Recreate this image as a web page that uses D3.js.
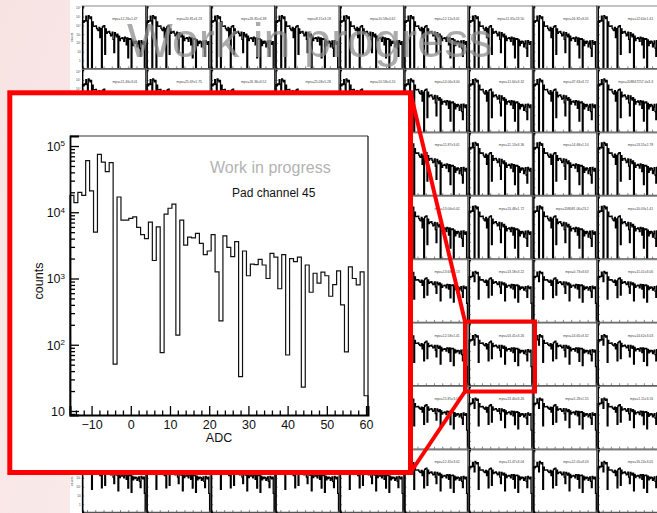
<!DOCTYPE html>
<html><head><meta charset="utf-8">
<script src="https://cdn.jsdelivr.net/npm/d3@7"></script>
<style>
body{margin:0;background:#fff;}
svg{display:block;font-family:"Liberation Sans",Arial,Helvetica,sans-serif;}
</style>
</head><body>
<svg id="c" width="657" height="513"></svg>
<script>
// ---------- data ----------
const adc = [-15,-14,-13,-12,-11,-10,-9,-8,-7,-6,-5,-4,-3,-2,-1,0,1,2,3,4,5,6,7,8,9,10,
  11,12,13,14,15,16,17,18,19,20,21,22,23,24,25,26,27,28,29,30,31,32,33,34,35,36,37,38,39,40,
  41,42,43,44,45,46,47,48,49,50,51,52,53,54,55,56,57,58,59,60];

// Pad channel 45 (inset)
const counts45 = [18000,14000,20000,18000,60000,21000,5000,75000,57000,41000,56000,51,
  17000,7600,7600,8100,8500,5900,4600,4000,7100,1870,6000,76,9400,11500,13300,140,
  7600,3200,4200,4100,4800,3400,2300,2600,4600,1260,230,4400,2950,2140,3600,33,
  2600,1100,1650,1620,1950,1600,1000,2400,2100,700,2300,70,2000,1800,2100,23,
  1600,620,1200,850,1250,1100,540,810,1300,400,78,1500,1000,800,1260,17];

// typical shape of the upper-row thumbnails (empty bins at the dips)
const countsTop = [30000,22000,35000,30000,110000,33000,0,130000,95000,60000,90000,0,
  25000,8000,7500,8000,8500,4500,3000,2500,6000,400,4200,0,6500,8000,9000,5,
  4000,1200,1800,1700,2000,1200,650,800,1700,250,8,1500,800,500,1000,0,
  600,180,330,320,400,290,150,450,350,60,380,2,300,250,310,0,
  220,50,150,90,160,130,35,80,170,25,3,180,110,70,140,0];

const rowShape = ["top","top","top","top","main","main","main","main"];

const mpvLabels = [
  ["mpv=12.26±1.47","mpv=20.81±3.23","mpv=26.85±4.38","mpv=8.15±3.18","mpv=10.58±0.62","mpv=12.12±3.01","mpv=11.35±13.50","mpv=16.82±3.05","mpv=12.64±1.41"],
  ["mpv=11.46±3.01","mpv=25.69±1.75","mpv=26.36±3.52","mpv=25.08±5.28","mpv=10.58±4.20","mpv=14.06±3.00","mpv=11.64±3.32","mpv=37.63±3.72","mpv=208847257.0±3.3"],
  ["mpv=13.26±2.14","mpv=12.85±1.96","mpv=14.02±2.33","mpv=11.97±3.05","mpv=13.71±2.48","mpv=11.87±3.01","mpv=12.13±3.36","mpv=14.68±1.10","mpv=13.55±2.78"],
  ["mpv=12.41±2.05","mpv=13.12±1.88","mpv=12.77±2.61","mpv=14.30±3.12","mpv=12.95±1.74","mpv=13.06±0.02","mpv=13.48±1.72","mpv=208081.06±23.2","mpv=10.03±1.41"],
  ["mpv=12.84±1.35","mpv=13.22±2.07","mpv=11.93±1.66","mpv=12.71±2.45","mpv=13.37±1.28","mpv=13.68±1.13","mpv=13.58±3.22","mpv=0.73±3.63","mpv=11.01±3.06"],
  ["mpv=13.05±1.52","mpv=12.66±2.19","mpv=14.11±1.83","mpv=12.29±2.70","mpv=13.94±1.61","mpv=12.58±1.41","mpv=53.41±3.26","mpv=14.65±3.32","mpv=14.62±3.03"],
  ["mpv=12.97±1.44","mpv=13.81±2.02","mpv=12.36±1.71","mpv=13.59±2.26","mpv=12.88±1.39","mpv=15.85±3.01","mpv=13.40±3.26","mpv=5.28±1.55","mpv=1.11±3.16"],
  ["mpv=13.33±1.58","mpv=12.74±2.11","mpv=13.90±1.93","mpv=12.52±2.37","mpv=13.16±1.47","mpv=12.45±3.02","mpv=11.47±3.04","mpv=12.05±3.03","mpv=16.24±3.05"]
];

const insetXTicks = [-10,0,10,20,30,40,50,60];
const insetXMinor = [-14,-12,-8,-6,-4,-2,2,4,6,8,12,14,16,18,22,24,26,28,32,34,36,38,42,44,46,48,52,54,56,58];
const insetYTicks = [10,100,1000,10000,100000];
const thumbYTicks = [1,10,100,1000,10000,100000,1000000];
const thumbYLabels = ["1","10","10²","10³","10⁴","10⁵","10⁶"];
const thumbXTicks = [-10,0,10,20,30,40,50,60];

// ---------- drawing ----------
const svg = d3.select("#c");
const defs = svg.append("defs");
const lg = defs.append("linearGradient").attr("id","pink").attr("x1","0").attr("x2","1").attr("y1","0").attr("y2","0.3");
lg.append("stop").attr("offset","0").attr("stop-color","#f8e3e3");
lg.append("stop").attr("offset","1").attr("stop-color","#fdf4f4");
svg.append("rect").attr("width",657).attr("height",513).attr("fill","url(#pink)");
svg.append("rect").attr("x",70).attr("y",0).attr("width",587).attr("height",513).attr("fill","#fff");

function stepPoints(xs, ys, vals, yBottom) {
  const pts = [[xs(adc[0]-0.5), yBottom]];
  vals.forEach((v,i) => {
    const yy = v > 0 ? ys(v) : yBottom;
    pts.push([xs(adc[i]-0.5), yy]);
    pts.push([xs(adc[i]+0.5), yy]);
  });
  pts.push([xs(adc[adc.length-1]+0.5), yBottom]);
  return pts;
}
const line = d3.line();

// thumbnails grid
const gx0 = 81.5, gy0 = 5.5, pw = 64.45, ph = 63.4;
const grid = svg.append("g");
for (let r = 0; r < 8; r++) {
  for (let c = 0; c < 9; c++) {
    const x0 = gx0 + c*pw, y0 = gy0 + r*ph;
    const g = grid.append("g");
    const xs = d3.scaleLinear().domain([-15.5,60.5]).range([x0+1, x0+pw-0.8]);
    const ys = d3.scaleLog().domain([Math.pow(10,-0.85), Math.pow(10,6.15)]).range([y0+ph-1, y0+1]).clamp(true);
    const vals = rowShape[r] === "top" ? countsTop : counts45;
    g.append("path").attr("d", line(stepPoints(xs, ys, vals, y0+ph-1)))
      .attr("fill","none").attr("stroke","#000").attr("stroke-width",1.3);
    // frame
    g.append("line").attr("x1",x0).attr("x2",x0+pw).attr("y1",y0+0.5).attr("y2",y0+0.5).attr("stroke","#888").attr("stroke-width",1.2);
    g.append("line").attr("x1",x0+pw-0.3).attr("x2",x0+pw-0.3).attr("y1",y0).attr("y2",y0+ph).attr("stroke","#111").attr("stroke-width",0.9);
    // axes
    const ax = g.append("g").attr("transform",`translate(0,${y0+ph-0.6})`)
      .call(d3.axisBottom(xs).tickValues(thumbXTicks).tickSize(-2).tickFormat(""));
    ax.select(".domain").attr("stroke","#555").attr("stroke-width",1.5);
    ax.selectAll(".tick line").attr("stroke","#333").attr("stroke-width",0.6);
    const ay = g.append("g").attr("transform",`translate(${x0+0.7},0)`)
      .call(d3.axisLeft(ys).tickValues(thumbYTicks).tickSize(-2).tickPadding(1.5)
        .tickFormat(c === 0 ? ((d,i) => thumbYLabels[i]) : ""));
    ay.select(".domain").attr("stroke","#000").attr("stroke-width",1.4);
    ay.selectAll(".tick line").attr("stroke","#222").attr("stroke-width",0.6);
    ay.selectAll(".tick text").attr("font-size",3).attr("fill","#333").attr("font-family","Liberation Sans, Arial, sans-serif");
    if (c === 0) {
      g.append("text").attr("transform",`translate(${x0-8.5},${y0+ph/2}) rotate(-90)`)
        .attr("text-anchor","middle").attr("font-size",3).attr("fill","#444").text("counts");
    }
    g.append("text").attr("x", x0+56).attr("y", y0+14).attr("text-anchor","end")
      .attr("font-size",3.4).attr("fill","#444").text(mpvLabels[r][c]);
  }
}

// watermark
svg.append("text").attr("x",127).attr("y",57).attr("font-size",48.5)
  .attr("fill","#8f8f8f").attr("fill-opacity",0.75).text("Work in progress");

// red zoom annotation
const red = "#f00";
const hl = {x:465, y:321.5, w:70, h:70};
const inset = {x:9.8, y:92.8, w:400.7, h:379.7};
svg.append("line").attr("x1",inset.x+inset.w).attr("y1",inset.y).attr("x2",hl.x).attr("y2",hl.y)
  .attr("stroke",red).attr("stroke-width",4);
svg.append("line").attr("x1",inset.x+inset.w).attr("y1",inset.y+inset.h).attr("x2",hl.x).attr("y2",hl.y+hl.h)
  .attr("stroke",red).attr("stroke-width",4);
svg.append("rect").attr("x",hl.x).attr("y",hl.y).attr("width",hl.w).attr("height",hl.h)
  .attr("fill","none").attr("stroke",red).attr("stroke-width",4);
svg.append("rect").attr("x",inset.x).attr("y",inset.y).attr("width",inset.w).attr("height",inset.h)
  .attr("fill","#fff").attr("stroke",red).attr("stroke-width",5);

// inset chart
const ix = d3.scaleLinear().domain([-15.5,60.5]).range([70,368]);
const iy = d3.scaleLog().domain([8.7,141600]).range([415,136]);
const ig = svg.append("g");

ig.append("path").attr("d", line(stepPoints(ix, iy, counts45, 415)))
  .attr("fill","none").attr("stroke","#111").attr("stroke-width",1.2);

// frame top/right
ig.append("line").attr("x1",70).attr("x2",368).attr("y1",136).attr("y2",136).attr("stroke","#333").attr("stroke-width",1.2);
ig.append("line").attr("x1",368).attr("x2",368).attr("y1",136).attr("y2",415).attr("stroke","#111").attr("stroke-width",1.2);

// x axis
const xMinorG = ig.append("g").attr("transform","translate(0,415)")
  .call(d3.axisBottom(ix).tickValues(insetXMinor).tickSize(-4.5).tickFormat(""));
xMinorG.select(".domain").remove();
const xAx = ig.append("g").attr("transform","translate(0,415)")
  .call(d3.axisBottom(ix).tickValues(insetXTicks).tickSize(-9).tickPadding(5)
    .tickFormat(d => d < 0 ? "\u2212" + Math.abs(d) : String(d)));
xAx.select(".domain").attr("stroke","#000").attr("stroke-width",2);
[xAx, xMinorG].forEach(a => a.selectAll(".tick line").attr("stroke","#000").attr("stroke-width",1.3));
xAx.selectAll(".tick text").attr("font-size",12.5).attr("fill","#111").attr("font-family","Liberation Sans, Arial, sans-serif");

// y axis
const yMinorVals = [];
[1,10,100,1000,10000,100000].forEach(b => { for (let k = 2; k <= 9; k++) { const v = b*k; if (v >= 8.7 && v <= 141600) yMinorVals.push(v); } });
yMinorVals.push(9);
const yMinorG = ig.append("g").attr("transform","translate(70,0)")
  .call(d3.axisLeft(iy).tickValues(yMinorVals).tickSize(-5).tickFormat(""));
yMinorG.select(".domain").remove();
const yAx = ig.append("g").attr("transform","translate(70,0)")
  .call(d3.axisLeft(iy).tickValues(insetYTicks).tickSize(-9).tickPadding(5).tickFormat(""));
yAx.select(".domain").attr("stroke","#000").attr("stroke-width",1.8);
[yAx, yMinorG].forEach(a => a.selectAll(".tick line").attr("stroke","#000").attr("stroke-width",1.3));
yAx.selectAll(".tick").each(function(d) {
  const t = d3.select(this).append("text").attr("x",-5).attr("dy","0.35em")
    .attr("text-anchor","end").attr("font-size",12.5).attr("fill","#111");
  const e = Math.round(Math.log10(d));
  if (e === 1) { t.text("10"); }
  else {
    t.append("tspan").text("10");
    t.append("tspan").attr("font-size",8).attr("dy","-0.55em").text(String(e));
  }
});

// axis titles
ig.append("text").attr("x",219).attr("y",441.5).attr("text-anchor","middle")
  .attr("font-size",12.5).attr("fill","#111").text("ADC");
ig.append("text").attr("transform","translate(43,281) rotate(-90)").attr("text-anchor","middle")
  .attr("font-size",12.5).attr("fill","#111").text("counts");

// in-plot labels
ig.append("text").attr("x",210).attr("y",173).attr("font-size",16)
  .attr("fill","#b3b3b3").text("Work in progress");
ig.append("text").attr("x",232).attr("y",197).attr("font-size",12)
  .attr("fill","#111").text("Pad channel 45");
</script>
</body></html>
